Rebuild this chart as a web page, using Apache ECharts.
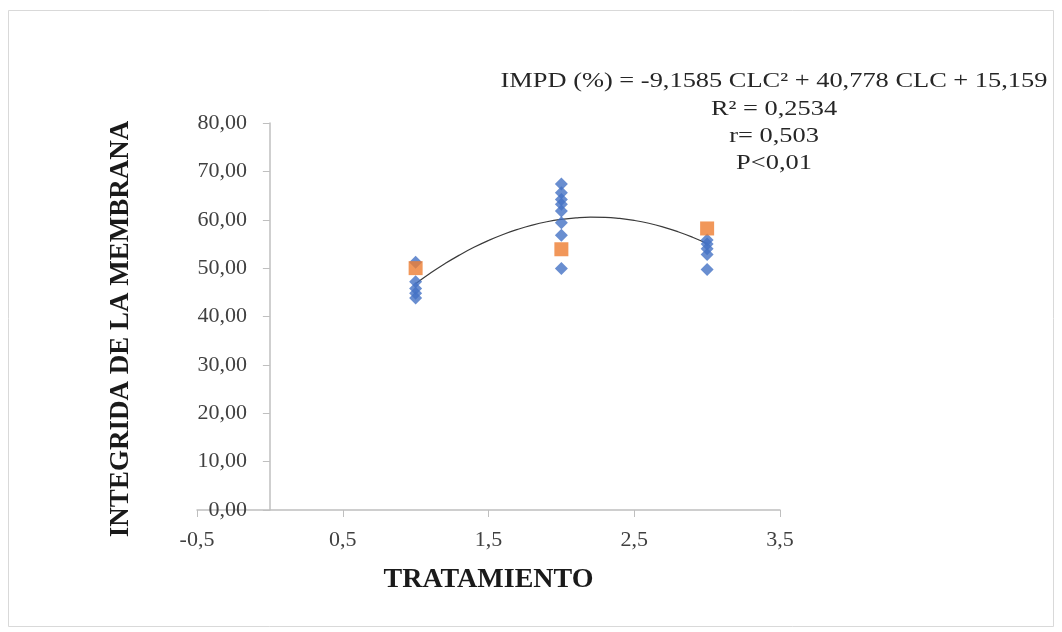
<!DOCTYPE html>
<html>
<head>
<meta charset="utf-8">
<script src="https://cdn.jsdelivr.net/npm/echarts@6/dist/echarts.min.js"></script>
<style>
html,body{margin:0;padding:0;background:#fff;}
#chart{width:1062px;height:632px;}
</style>
</head>
<body>
<div id="chart"></div>
<script>
// Observed points (blue diamonds)
const blueX = [1,1,1,1,1, 2,2,2,2,2,2,2,2, 3,3,3,3,3];
const blueY = [51.2,47.2,45.8,44.8,43.8, 67.4,65.6,64.2,63.2,61.8,59.4,56.8,49.9, 55.8,55.0,54.0,52.8,49.7];
// Treatment means (orange squares)
const orangeX = [1, 2, 3];
const orangeY = [50.0, 53.9, 58.2];
// Trend line points
const trendX = [1.0,1.1,1.2,1.3,1.4,1.5,1.6,1.7,1.8,1.9,2.0,2.1,2.2,2.3,2.4,2.5,2.6,2.7,2.8,2.9,3.0];
const trendY = [46.78,48.93,50.90,52.69,54.30,55.72,56.96,58.01,58.89,59.58,60.08,60.40,60.54,60.50,60.27,59.86,59.27,58.49,57.53,56.39,55.07];
// Texts
const xTitle = 'TRATAMIENTO';
const yTitle = 'INTEGRIDA DE LA MEMBRANA';
const eqLines = ['IMPD (%) = -9,1585 CLC\u00B2 + 40,778 CLC + 15,159', 'R\u00B2 = 0,2534', 'r= 0,503', 'P<0,01'];

const zip = (a, b) => a.map((v, i) => [v, b[i]]);
const FONT = '"Liberation Serif", "Times New Roman", serif';
const eqY = [81, 109, 136, 163];

const chart = echarts.init(document.getElementById('chart'), null, {renderer: 'canvas'});
chart.setOption({
  backgroundColor: '#ffffff',
  animation: false,
  grid: {left: 197, right: 282, top: 123, bottom: 122, containLabel: false},
  xAxis: {
    type: 'value', min: -0.5, max: 3.5, interval: 1,
    axisLine: {onZero: true, lineStyle: {color: '#bfbfbf', width: 1.5}},
    axisTick: {show: true, length: 7, lineStyle: {color: '#bfbfbf'}},
    axisLabel: {margin: 19, color: '#404040', fontFamily: FONT, fontSize: 22,
      formatter: v => v.toFixed(1).replace('.', ',')},
    splitLine: {show: false},
    name: xTitle, nameLocation: 'middle', nameGap: 56,
    nameTextStyle: {fontFamily: FONT, fontSize: 28, fontWeight: 'bold', color: '#1a1a1a'}
  },
  yAxis: {
    type: 'value', min: 0, max: 80, interval: 10,
    axisLine: {show: true, onZero: true, lineStyle: {color: '#bfbfbf', width: 1.5}},
    axisTick: {show: true, length: 7, lineStyle: {color: '#bfbfbf'}},
    axisLabel: {margin: -50, color: '#404040', fontFamily: FONT, fontSize: 22,
      formatter: v => v.toFixed(2).replace('.', ',')},
    splitLine: {show: false}
  },
  graphic: [
    {type: 'rect', silent: true, shape: {x: 8.5, y: 10.5, width: 1045, height: 616},
     style: {fill: 'none', stroke: '#d9d9d9', lineWidth: 1}},
    {type: 'text', x: 121, y: 329, rotation: Math.PI / 2,
     style: {text: yTitle, fontFamily: FONT, fontSize: 27, fontWeight: 'bold', fill: '#1a1a1a',
       textAlign: 'center', textVerticalAlign: 'middle'}}
  ].concat(eqLines.map((t, i) => ({
    type: 'text', x: 774, y: eqY[i], scaleX: 1.2,
    style: {text: t, fontFamily: FONT, fontSize: 22, fill: '#262626', textAlign: 'center', textVerticalAlign: 'middle'}
  }))),
  series: [
    {type: 'line', data: zip(trendX, trendY), smooth: true, symbol: 'none',
     lineStyle: {color: '#3a3a3a', width: 1.2}, z: 2},
    {type: 'scatter', data: zip(blueX, blueY), symbol: 'diamond', symbolSize: [13, 13],
     itemStyle: {color: '#4472C4'}, z: 3},
    {type: 'scatter', data: zip(orangeX, orangeY), symbol: 'rect', symbolSize: [14, 14],
     itemStyle: {color: '#ED7D31'}, z: 4}
  ]
});
</script>
</body>
</html>
